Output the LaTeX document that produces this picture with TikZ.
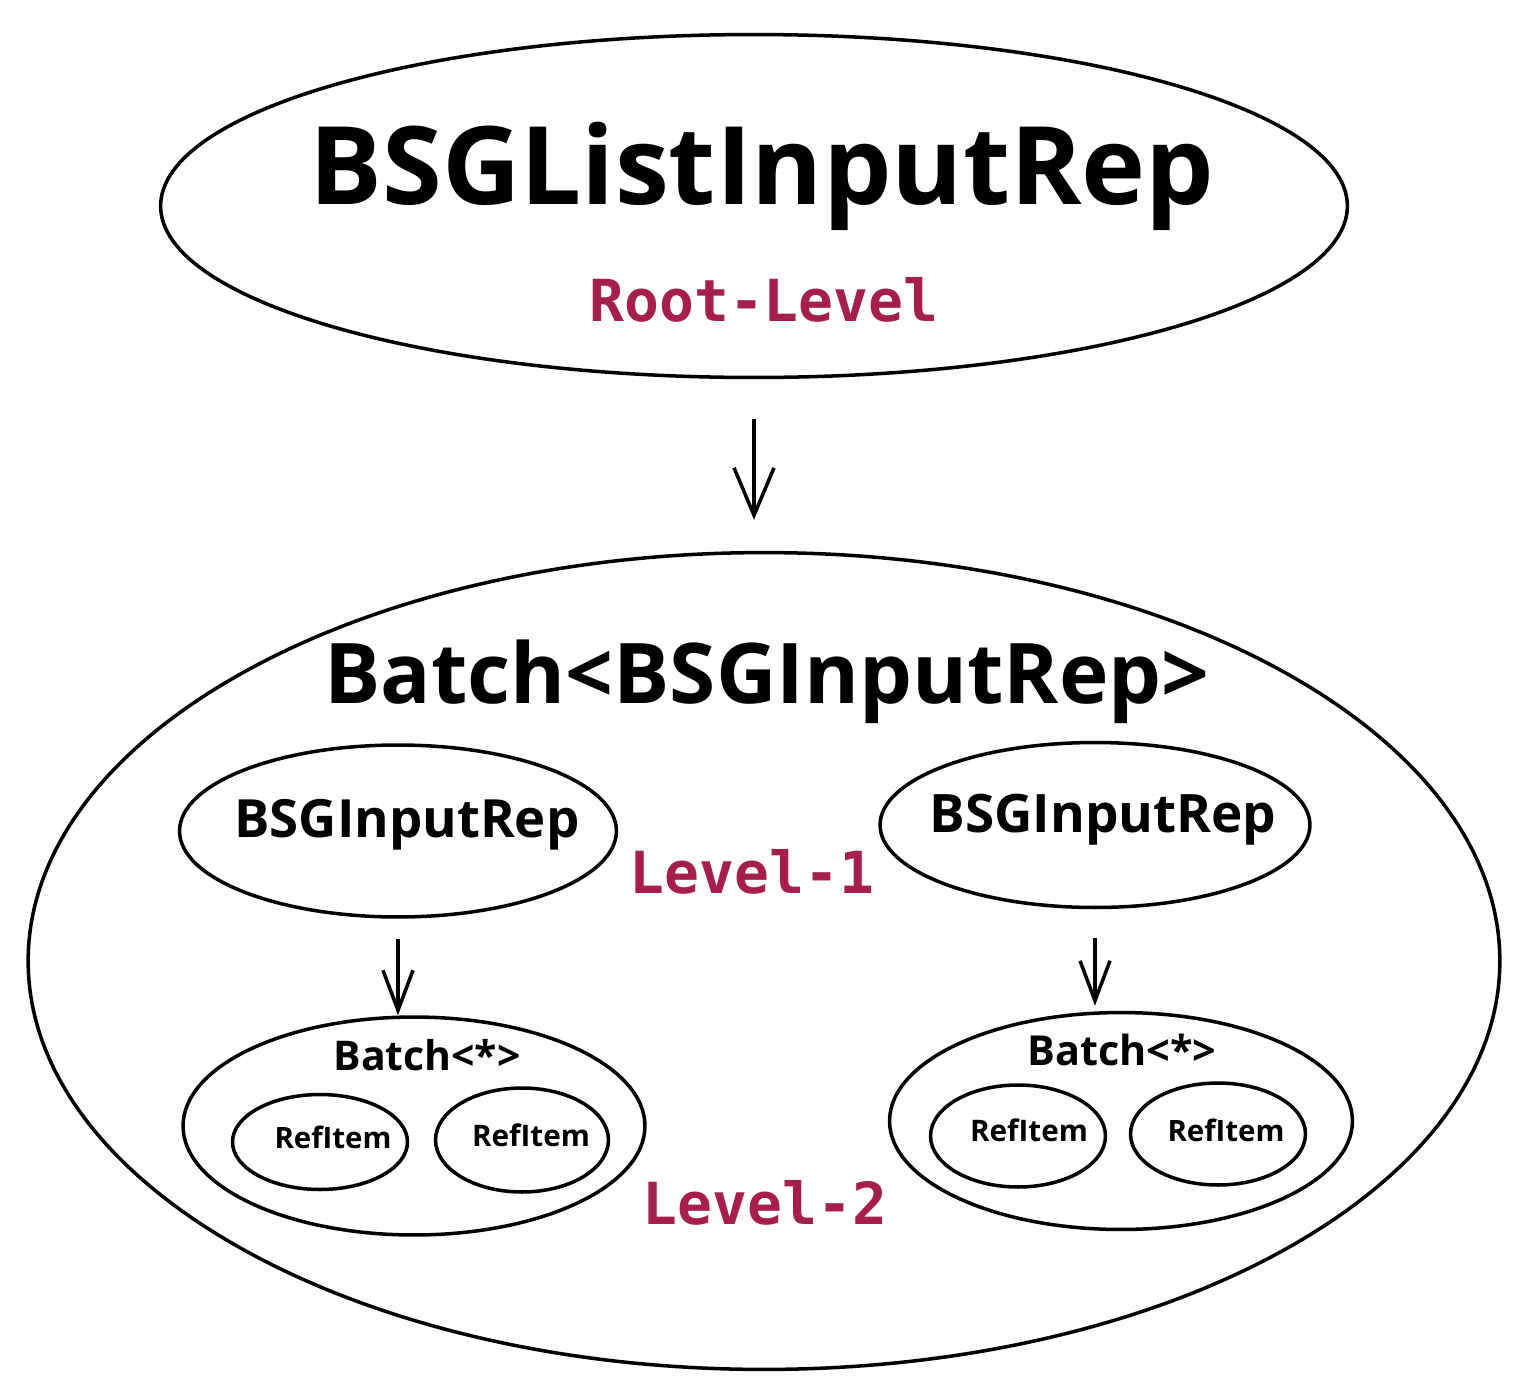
\documentclass[tikz,border=0pt]{standalone}
\usepackage{fontspec}
\setmainfont{Open Sans}
\newfontfamily\monofont{DejaVu Sans Mono}
\usetikzlibrary{arrows.meta,shapes.geometric}
\definecolor{lvlred}{HTML}{A61E4D}
\tikzset{
  blob/.style={ellipse, draw=black, line width=2pt, inner sep=0pt},
  lvl/.style={text=lvlred, font=\monofont\bfseries\fontsize{33}{40}\selectfont, inner sep=0pt},
  hand/.style={inner sep=0pt, text=black, font=\bfseries},
  conn/.style={line width=2pt, -{Straight Barb[length=0.95cm,width=0.8cm,line width=2pt]}},
  smallconn/.style={line width=2pt, -{Straight Barb[length=0.8cm,width=0.6cm,line width=2pt]}}
}
\begin{document}
\begin{tikzpicture}[x=0.02cm,y=-0.02cm]
\useasboundingbox (0,0) rectangle (1526,1400);
% top
\node[blob, minimum width=23.74cm, minimum height=6.86cm] (root) at (754,206) {};
\node[hand] (roott) at (762,176) {\resizebox{18.1cm}{!}{BSGListInputRep}};
\node[lvl] (rootl) at (764,300) {Root-Level};
% big
\node[blob, minimum width=29.44cm, minimum height=16.34cm] (big) at (764,961) {};
\node[hand] (bigt) at (767,682) {\resizebox{17.7cm}{!}{Batch<BSGInputRep>}};
\draw[conn, shorten >=0.62cm] (root.south) ++(0,40) coordinate (a0) -- (a0 |- big.north) coordinate (a1);
% level 1
\node[blob, minimum width=8.74cm, minimum height=3.44cm] (l1) at (398,831) {};
\node[hand] (l1t) at (407,825) {\resizebox{6.9cm}{!}{BSGInputRep}};
\node[blob, minimum width=8.6cm, minimum height=3.3cm] (r1) at (1095,825) {};
\node[hand] (r1t) at (1103,820) {\resizebox{6.94cm}{!}{BSGInputRep}};
\node[lvl] (lv1) at (752,872) {Level-1};
% level 2 batches
\node[blob, minimum width=9.24cm, minimum height=4.36cm] (lb) at (414,1126) {};
\node[hand] (lbt) at (427,1055) {\resizebox{3.74cm}{!}{Batch<*>}};
\node[blob, minimum width=9.26cm, minimum height=4.34cm] (rb) at (1121,1121) {};
\node[hand] (rbt) at (1122,1050) {\resizebox{3.78cm}{!}{Batch<*>}};
\node[lvl] (lv2) at (765,1203) {Level-2};
% ref items
\node[blob, minimum width=3.5cm, minimum height=1.9cm] (ri1) at (320,1142) {};
\node[hand] (ri1t) at (333,1137) {\resizebox{2.34cm}{!}{RefItem}};
\node[blob, minimum width=3.46cm, minimum height=2.08cm] (ri2) at (522,1140) {};
\node[hand] (ri2t) at (531,1135) {\resizebox{2.36cm}{!}{RefItem}};
\node[blob, minimum width=3.5cm, minimum height=2.04cm] (ri3) at (1018,1136) {};
\node[hand] (ri3t) at (1029,1130) {\resizebox{2.36cm}{!}{RefItem}};
\node[blob, minimum width=3.5cm, minimum height=2.04cm] (ri4) at (1218,1134) {};
\node[hand] (ri4t) at (1226,1130) {\resizebox{2.34cm}{!}{RefItem}};
% arrows level1 -> level2
\draw[smallconn, shorten <=0.4cm] (l1.south) -- (l1.south |- lb.north);
\draw[smallconn, shorten <=0.58cm, shorten >=0.1cm] (r1.south) -- (r1.south |- rb.north);
\end{tikzpicture}
\end{document}
